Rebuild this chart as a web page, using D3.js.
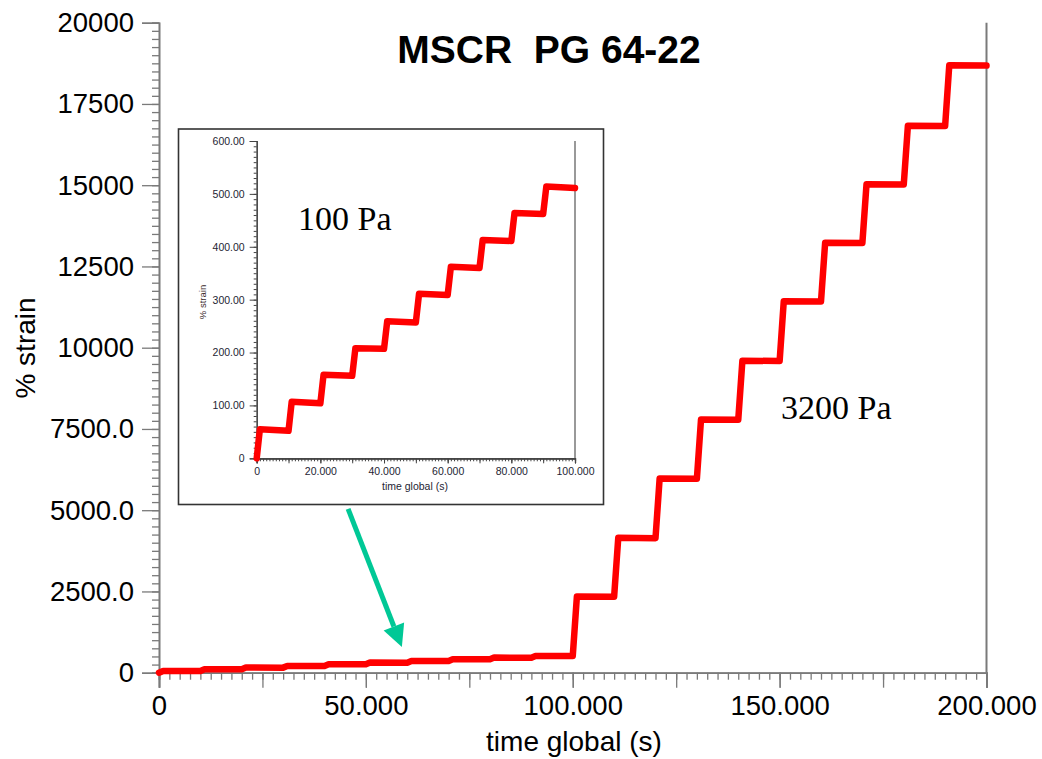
<!DOCTYPE html>
<html><head><meta charset="utf-8">
<script src="https://d3js.org/d3.v7.min.js"></script>
<style>body{margin:0;background:#fff}svg{display:block}</style>
</head><body><svg id="c" width="1042" height="759"></svg>
<script>
// ---- data ----
const time100   = [0,1,10,11,20,21,30,31,40,41,50,51,60,61,70,71,80,81,90,91,100];
const strain100 = [0,55,52,107,104,158,156,208,207,259,257,311,309,362,360,413,411,464,462,514,511];
const time3200   = [100,101,110,111,120,121,130,131,140,141,150,151,160,161,170,171,180,181,190,191,200];
const strain3200 = [511,2345,2335,4150,4140,5975,5965,7790,7780,9600,9590,11430,11420,13230,13220,15030,15020,16830,16820,18690,18680];

const mainXTicks = [0,50,100,150,200];
const mainXLabels = ["0","50.000","100.000","150.000","200.000"];
const mainYTicks = [0,2500,5000,7500,10000,12500,15000,17500,20000];
const mainYLabels = ["0","2500.0","5000.0","7500.0","10000","12500","15000","17500","20000"];
const insetXTicks = [0,20,40,60,80,100];
const insetXLabels = ["0","20.000","40.000","60.000","80.000","100.000"];
const insetYTicks = [0,100,200,300,400,500,600];
const insetYLabels = ["0","100.00","200.00","300.00","400.00","500.00","600.00"];
const arrowTail = [45.7, 5040];
const arrowTip  = [58.7, 790];

// ---- chart ----
const svg = d3.select("#c");
svg.append("rect").attr("width",1042).attr("height",759).attr("fill","#fff");
const AX = "#7a7a7a";
const FONT = "Liberation Sans, Arial, sans-serif";

const x = d3.scaleLinear().domain([0,200]).range([159,986.5]);
const y = d3.scaleLinear().domain([0,20000]).range([672.7,22.7]);

function styleAxis(g){
  g.selectAll("path.domain").attr("stroke",AX).attr("stroke-width",1.6);
  g.selectAll(".tick line").attr("stroke",AX).attr("stroke-width",1.3);
}

// minor y ticks
const yMinor = d3.range(0,20001,250);
svg.append("g").attr("transform","translate(159,0)")
  .call(d3.axisLeft(y).tickValues(yMinor).tickSize(7).tickFormat(""))
  .call(styleAxis);
svg.append("g").attr("transform","translate(159,0)")
  .call(d3.axisLeft(y).tickValues(mainYTicks).tickSize(17).tickPadding(8)
        .tickFormat((d,i)=>mainYLabels[i]))
  .call(styleAxis)
  .call(g=>g.selectAll("text").attr("font-family",FONT).attr("font-size",27.5).attr("fill","#000"));

// x axis
const xMinor = d3.range(0,200.01,2.5);
svg.append("g").attr("transform","translate(0,672.7)")
  .call(d3.axisBottom(x).tickValues(xMinor).tickSize(7).tickFormat(""))
  .call(styleAxis);
svg.append("g").attr("transform","translate(0,672.7)")
  .call(d3.axisBottom(x).tickValues(d3.range(0,200.01,25)).tickSize(15).tickFormat(""))
  .call(styleAxis);
svg.append("g").attr("transform","translate(0,672.7)")
  .call(d3.axisBottom(x).tickValues(mainXTicks).tickSize(15).tickPadding(8)
        .tickFormat((d,i)=>mainXLabels[i]))
  .call(styleAxis)
  .call(g=>g.selectAll("text").attr("font-family",FONT).attr("font-size",27.5).attr("fill","#000"));

// right frame line
svg.append("line").attr("x1",x(200)).attr("x2",x(200)).attr("y1",y(20000)).attr("y2",y(0))
  .attr("stroke",AX).attr("stroke-width",2);

// main series
const mainPts = time100.map((t,i)=>[t,strain100[i]]).concat(time3200.map((t,i)=>[t,strain3200[i]]));
const line = d3.line().x(d=>x(d[0])).y(d=>y(d[1]));
svg.append("path").datum(mainPts).attr("d",line).attr("fill","none")
  .attr("stroke","#ff0000").attr("stroke-width",6.5).attr("stroke-linejoin","round").attr("stroke-linecap","round");

// titles
svg.append("text").attr("x",549).attr("y",63).attr("text-anchor","middle")
  .attr("font-family",FONT).attr("font-weight","bold").attr("font-size",39)
  .style("white-space","pre").attr("xml:space","preserve").text("MSCR  PG 64-22");
svg.append("text").attr("x",574).attr("y",751).attr("text-anchor","middle")
  .attr("font-family",FONT).attr("font-size",28).text("time global (s)");
svg.append("text").attr("transform","translate(35,348) rotate(-90)").attr("text-anchor","middle")
  .attr("font-family",FONT).attr("font-size",28).text("% strain");
svg.append("text").attr("x",781).attr("y",419)
  .attr("font-family","Liberation Serif, Times New Roman, serif").attr("font-size",34).text("3200 Pa");

// arrow
const ac = "#00c896";
const tx = x(arrowTail[0]), ty = y(arrowTail[1]), hx = x(arrowTip[0]), hy = y(arrowTip[1]);
const ang = Math.atan2(hy-ty, hx-tx), hl = 22, hw = 11;
const bx = hx - hl*Math.cos(ang), by = hy - hl*Math.sin(ang);
svg.append("line").attr("x1",tx).attr("y1",ty).attr("x2",bx).attr("y2",by)
  .attr("stroke",ac).attr("stroke-width",5);
svg.append("polygon").attr("fill",ac).attr("points",[
  [hx,hy],[bx+hw*Math.sin(ang), by-hw*Math.cos(ang)],[bx-hw*Math.sin(ang), by+hw*Math.cos(ang)]
].map(p=>p.join(",")).join(" "));

// ---- inset ----
const inset = svg.append("g");
inset.append("rect").attr("x",178.5).attr("y",129).attr("width",425).attr("height",375.5)
  .attr("fill","#fff").attr("stroke","#333").attr("stroke-width",1.6);
const ix = d3.scaleLinear().domain([0,100]).range([256.7,575]);
const iy = d3.scaleLinear().domain([0,600]).range([458.3,141]);
const IF = 10.5, IC = "#1e2433";
function styleI(g){
  g.selectAll("path.domain").attr("stroke","#444").attr("stroke-width",1.2);
  g.selectAll(".tick line").attr("stroke","#444").attr("stroke-width",1);
}
inset.append("g").attr("transform","translate(256.7,0)")
  .call(d3.axisLeft(iy).tickValues(d3.range(0,601,10)).tickSize(3).tickFormat("")).call(styleI);
inset.append("g").attr("transform","translate(256.7,0)")
  .call(d3.axisLeft(iy).tickValues(insetYTicks).tickSize(7).tickPadding(5).tickFormat((d,i)=>insetYLabels[i]))
  .call(styleI)
  .call(g=>g.selectAll("text").attr("font-family",FONT).attr("font-size",IF).attr("fill",IC));
inset.append("g").attr("transform","translate(0,458.3)")
  .call(d3.axisBottom(ix).tickValues(d3.range(0,100.01,1)).tickSize(3).tickFormat("")).call(styleI);
inset.append("g").attr("transform","translate(0,458.3)")
  .call(d3.axisBottom(ix).tickValues(d3.range(0,100.01,10)).tickSize(5).tickFormat("")).call(styleI);
inset.append("g").attr("transform","translate(0,458.3)")
  .call(d3.axisBottom(ix).tickValues(insetXTicks).tickSize(5).tickPadding(4).tickFormat((d,i)=>insetXLabels[i]))
  .call(styleI)
  .call(g=>g.selectAll("text").attr("font-family",FONT).attr("font-size",IF).attr("fill",IC));
inset.append("line").attr("x1",ix(100)).attr("x2",ix(100)).attr("y1",iy(600)).attr("y2",iy(0))
  .attr("stroke","#555").attr("stroke-width",1.2);
const iline = d3.line().x(d=>ix(d[0])).y(d=>iy(d[1]));
inset.append("path").datum(time100.map((t,i)=>[t,strain100[i]])).attr("d",iline).attr("fill","none")
  .attr("stroke","#ff0000").attr("stroke-width",6.5).attr("stroke-linejoin","round").attr("stroke-linecap","round");
inset.append("text").attr("x",415).attr("y",490).attr("text-anchor","middle")
  .attr("font-family",FONT).attr("font-size",IF).attr("fill",IC).text("time global (s)");
inset.append("text").attr("transform","translate(206,302) rotate(-90)").attr("text-anchor","middle")
  .attr("font-family",FONT).attr("font-size",9.5).attr("fill","#3a2a2a").text("% strain");
inset.append("text").attr("x",298).attr("y",230)
  .attr("font-family","Liberation Serif, Times New Roman, serif").attr("font-size",34).text("100 Pa");
</script></body></html>
